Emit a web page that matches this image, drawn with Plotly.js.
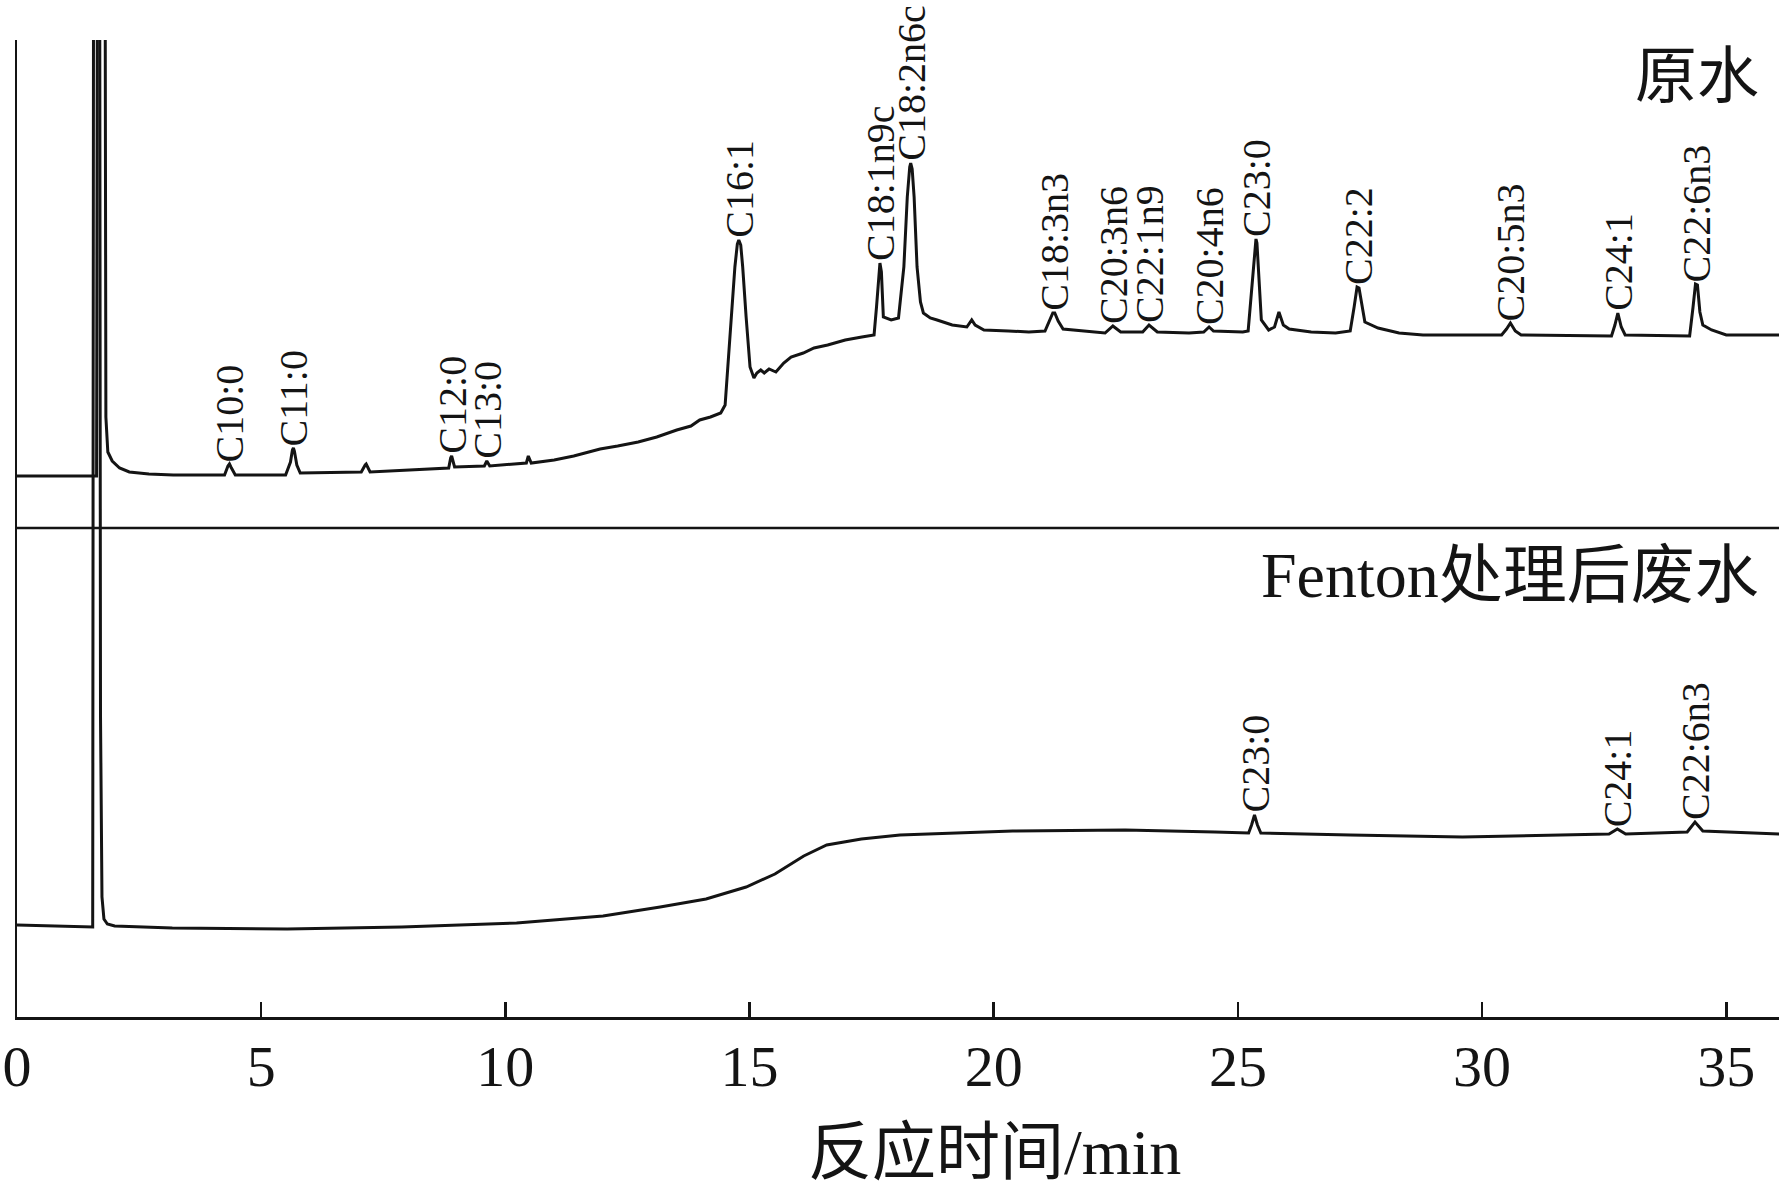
<!DOCTYPE html>
<html>
<head>
<meta charset="utf-8">
<script src="https://cdn.plot.ly/plotly-3.0.1.min.js"></script>
<style>
  html, body { margin: 0; padding: 0; background: #fff; }
  #chart { width: 1782px; height: 1193px; }
</style>
</head>
<body>
<div id="chart"></div>
<script>
// ---- Data (retention time in min, detector signal in arbitrary units) ----
const rawTime = [0, 1.63, 1.65, 1.80, 1.82, 1.86, 1.95, 2.1, 2.3, 2.7, 3.2, 4.25, 4.32, 4.35, 4.38, 4.47, 5.5, 5.6, 5.64, 5.66, 5.68, 5.73, 5.8,
  7.05, 7.13, 7.15, 7.23, 8.0, 8.84, 8.88, 8.9, 8.96, 9.57, 9.62, 9.68, 10.43, 10.47, 10.53, 11.0, 11.4, 11.94, 12.3, 12.72, 13.1,
  13.51, 13.8, 13.98, 14.2, 14.41, 14.5, 14.6, 14.7, 14.75, 14.78, 14.82, 14.86, 14.93, 15.01, 15.09, 15.15, 15.23, 15.3, 15.4, 15.54,
  15.7, 15.85, 16.1, 16.32, 16.6, 16.96, 17.3, 17.55, 17.6, 17.65, 17.67, 17.7, 17.74, 17.9, 18.05, 18.16, 18.23, 18.28, 18.3, 18.33, 18.37,
  18.43, 18.5, 18.56, 18.7, 18.84, 19.15, 19.45, 19.55, 19.62, 19.8, 20.3, 20.72, 21.05, 21.15, 21.21, 21.25, 21.32, 21.42,
  21.8, 22.28, 22.44, 22.6, 23.05, 23.18, 23.35, 24.0, 24.3, 24.41, 24.5, 25.1, 25.21, 25.3, 25.35, 25.37, 25.39, 25.44, 25.48, 25.63,
  25.75, 25.84, 25.93, 26.05, 26.5, 27.0, 27.3, 27.38, 27.44, 27.48, 27.54, 27.6, 27.87, 28.3, 28.79, 30.4, 30.5, 30.58, 30.68,
  30.8, 32.65, 32.72, 32.78, 32.85, 32.93, 34.25, 34.32, 34.37, 34.41, 34.46, 34.52, 34.7, 35.0, 36.1];
const rawSignal = [541, 541, 1200, 1200, 600, 565, 556, 549, 545, 543, 542, 542, 551, 553, 550, 542, 542, 555, 567, 569, 566, 552, 544,
  545, 552, 553, 545, 547, 549, 559, 561, 550, 551, 556, 551, 554, 561, 554, 557, 561, 568, 571, 575, 580,
  587, 591, 597, 600, 604, 612, 680, 750, 773, 777, 772, 750, 700, 650, 639, 644, 647, 644, 648, 645,
  654, 660, 664, 669, 672, 677, 680, 682, 710, 750, 754, 745, 700, 697, 699, 750, 820, 850, 854, 848, 820,
  750, 715, 704, 699, 697, 692, 690, 697, 692, 687, 686, 685, 686, 697, 704, 704, 696, 688,
  686, 684, 691, 685, 685, 692, 685, 684, 685, 690, 686, 685, 686, 740, 775, 778, 774, 730, 697, 687,
  690, 705, 692, 688, 685, 684, 686, 710, 730, 729, 710, 695, 689, 684, 682, 682, 688, 694, 686,
  682, 681, 692, 704, 690, 682, 681, 710, 733, 732, 705, 692, 687, 682, 682];

const fentonTime = [0, 1.55, 1.57, 1.69, 1.71, 1.74, 1.78, 1.85, 2.0, 3.18, 5.53, 7.88, 10.23, 12.0, 13.17, 14.11, 14.93,
  15.52, 16.11, 16.58, 17.29, 18.08, 20.39, 22.69, 24.53, 25.22, 25.28, 25.34, 25.40, 25.47, 27.3, 29.6, 32.6, 32.77,
  32.94, 34.2, 34.36, 34.52, 36.1];
const fentonSignal = [92, 90, 1200, 1200, 300, 120, 98, 93, 91, 89, 88, 90, 94, 101, 110, 118, 130,
  143, 161, 172, 178, 182, 186, 187, 185, 184, 192, 202, 192, 184, 182, 180, 183, 188,
  183, 185, 195, 186, 183];

const rawPeakNames = ["C10:0", "C11:0", "C12:0", "C13:0", "C16:1", "C18:1n9c", "C18:2n6c", "C18:3n3", "C20:3n6",
  "C22:1n9", "C20:4n6", "C23:0", "C22:2", "C20:5n3", "C24:1", "C22:6n3"];
const rawPeakTimes = [4.35, 5.66, 8.9, 9.62, 14.78, 17.67, 18.3, 21.23, 22.44, 23.18, 24.41, 25.37, 27.46, 30.58, 32.78, 34.39];

const fentonPeakNames = ["C23:0", "C24:1", "C22:6n3"];
const fentonPeakTimes = [25.34, 32.77, 34.36];

const xTicks = [0, 5, 10, 15, 20, 25, 30, 35];
const dividerLevel = 489;
const yMax = 977;
const xMax = 36.08;

const labelRaw = "原水";
const labelFenton = "Fenton处理后废水";
const xTitle = "反应时间/min";

// ---- Build figure ----
const serif = "Liberation Serif, Times New Roman, Noto Sans CJK SC, serif";
const ink = "#141414";

function peakTop(times, vals, t0) {
  let m = -Infinity;
  for (let i = 0; i < times.length; i++) {
    if (Math.abs(times[i] - t0) <= 0.12) m = Math.max(m, vals[i]);
  }
  return m;
}

const traces = [
  { x: rawTime, y: rawSignal, type: "scatter", mode: "lines",
    line: { color: ink, width: 3, shape: "linear" }, hoverinfo: "skip" },
  { x: fentonTime, y: fentonSignal, type: "scatter", mode: "lines",
    line: { color: ink, width: 3, shape: "linear" }, hoverinfo: "skip" }
];

const annotations = [];
function addPeakLabels(names, times, tx, ty) {
  names.forEach((n, i) => {
    annotations.push({
      x: times[i], y: peakTop(tx, ty, times[i]), xref: "x", yref: "y",
      text: n, textangle: -90, showarrow: false,
      xanchor: "center", yanchor: "bottom", yshift: 0,
      font: { family: serif, size: 40, color: ink }
    });
  });
}
addPeakLabels(rawPeakNames, rawPeakTimes, rawTime, rawSignal);
addPeakLabels(fentonPeakNames, fentonPeakTimes, fentonTime, fentonSignal);

annotations.push({
  x: 0.99, y: 0.968, xref: "paper", yref: "paper", text: labelRaw, showarrow: false,
  xanchor: "right", yanchor: "middle", font: { family: "Noto Sans CJK SC", size: 62, color: ink }
});
annotations.push({
  x: 0.99, y: 0.452, xref: "paper", yref: "paper", text: labelFenton, showarrow: false,
  xanchor: "right", yanchor: "middle", font: { family: serif, size: 64, color: ink }
});
annotations.push({
  x: 0.555, y: -0.139, xref: "paper", yref: "paper", text: xTitle, showarrow: false,
  xanchor: "center", yanchor: "middle", font: { family: serif, size: 64, color: ink }
});

const layout = {
  width: 1782, height: 1193,
  margin: { l: 17, r: 3, t: 40, b: 176, pad: 0 },
  paper_bgcolor: "#fff", plot_bgcolor: "#fff",
  showlegend: false,
  xaxis: {
    range: [0, xMax], tickvals: xTicks, ticktext: xTicks.map(String),
    ticks: "inside", ticklen: 15, tickwidth: 2.5, tickcolor: ink,
    showline: true, linecolor: ink, linewidth: 2.5,
    showgrid: false, zeroline: false,
    tickfont: { family: serif, size: 58, color: ink },
    ticklabelstandoff: -3
  },
  yaxis: {
    range: [0, yMax], showticklabels: false, ticks: "",
    showline: true, linecolor: ink, linewidth: 2.5,
    showgrid: false, zeroline: false
  },
  shapes: [{
    type: "line", xref: "paper", x0: 0, x1: 1, yref: "y", y0: dividerLevel, y1: dividerLevel,
    line: { color: ink, width: 2.5 }
  }],
  annotations: annotations
};

Plotly.newPlot("chart", traces, layout, { staticPlot: true, displayModeBar: false });
</script>
</body>
</html>
